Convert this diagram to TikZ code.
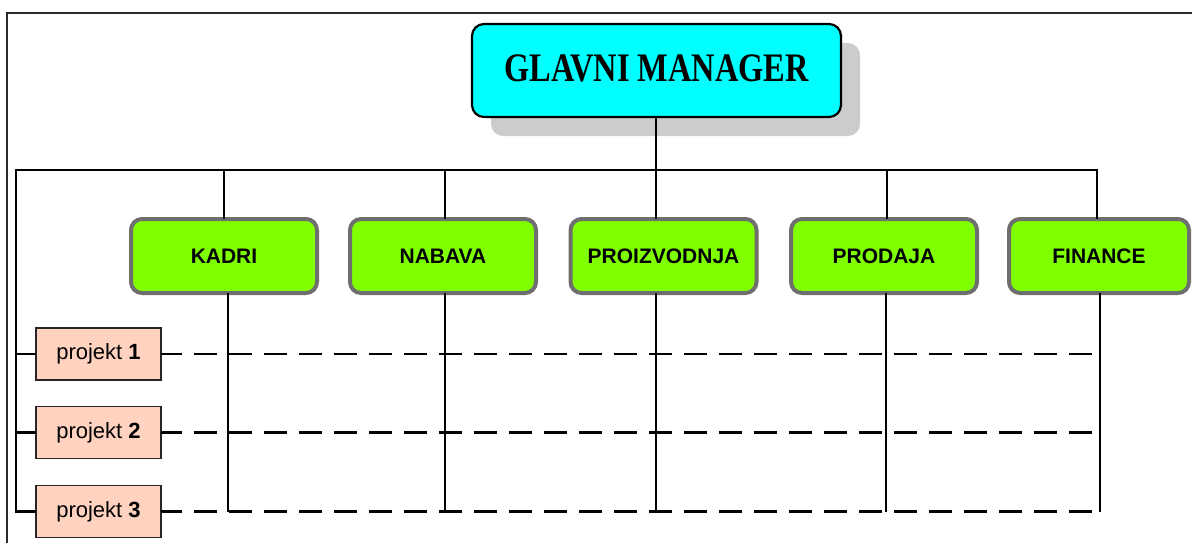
\documentclass[tikz,border=0pt]{standalone}
\usepackage{fontspec}
\setmainfont{Liberation Sans}
\newfontfamily\titlefont{Liberation Serif}
\usetikzlibrary{shadows}
\definecolor{gmcyan}{HTML}{00FFFF}
\definecolor{deptgreen}{HTML}{80FF00}
\definecolor{deptedge}{HTML}{6E6E6E}
\definecolor{projfill}{HTML}{FFD3C0}
\definecolor{shadowgray}{HTML}{CCCCCC}
\definecolor{framegray}{HTML}{2A2A2A}
\begin{document}
\begin{tikzpicture}[x=1pt,y=-1pt,
  topbox/.style={draw=black, line width=2.2pt, fill=gmcyan, rounded corners=12pt,
    minimum width=369pt, minimum height=93pt, inner sep=0pt, outer sep=0pt,
    general shadow={fill=shadowgray, shadow xshift=19pt, shadow yshift=-19pt}},
  deptbox/.style={draw=deptedge, line width=4pt, fill=deptgreen, rounded corners=11pt,
    minimum width=186pt, minimum height=74pt, inner sep=0pt, outer sep=0pt,
    font=\fontsize{21}{25}\selectfont\bfseries},
  projbox/.style={draw=black!85, line width=1.5pt, fill=projfill,
    minimum width=125pt, minimum height=52pt, inner sep=0pt, outer sep=0pt,
    font=\fontsize{22}{26}\selectfont},
  link/.style={line width=2.6pt, draw=black},
  dashlink/.style={line width=2.8pt, draw=black, dash pattern=on 23pt off 12pt, dash phase=2pt},
  framestyle/.style={line width=2pt, draw=framegray}
]
\useasboundingbox (0,0) rectangle (1192,543);

% outer frame
\draw[framestyle] (7,543) -- (7,13) -- (1192,13);

% bus coordinates
\coordinate (busL) at (16,170);

% boxes
\node[topbox] (gm) at (656.5,70.5)
  {\raisebox{4pt}{\titlefont\bfseries\fontsize{40.5}{44}\selectfont\scalebox{0.8}[1]{GLAVNI MANAGER}}};

\node[deptbox] (kadri)   at (224,256)   {KADRI};
\node[deptbox] (nabava)  at (443,256)   {NABAVA};
\node[deptbox] (proiz)   at (663.5,256) {PROIZVODNJA};
\node[deptbox] (prodaja) at (884,256)   {PRODAJA};
\node[deptbox,minimum width=180pt] (finance) at (1099,256) {FINANCE};

\node[projbox] (p1) at (98.5,354)   {projekt \textbf{1}};
\node[projbox] (p2) at (98.5,432.5) {projekt \textbf{2}};
\node[projbox] (p3) at (98.5,511.5) {projekt \textbf{3}};

% dashed project rows (drawn first so the solid lines sit on top)
\draw[dashlink] (p1.east) -- (p1.east -| 1100,0);
\draw[dashlink] (p2.east) -- (p2.east -| 1100,0);
\draw[dashlink] (p3.east) -- (p3.east -| 1100,0);

% top-level link to the bus
\draw[link] (gm.south -| 656,0) -- (656,170);

% bus with left spine down to the projects
\draw[link] (p3.west) -| (busL) -- ([xshift=-2pt]finance.north |- busL) -- ([xshift=-2pt]finance.north);
\draw[link] (p1.west) -- (p1.west -| busL);
\draw[link] (p2.west) -- (p2.west -| busL);

% drops from the bus to the departments
\draw[link] (kadri.north) -- (kadri.north |- busL);
\draw[link] ([xshift=2pt]nabava.north) -- ([xshift=2pt]nabava.north |- busL);
\draw[link] ([xshift=-7.5pt]proiz.north) -- ([xshift=-7.5pt]proiz.north |- busL);
\draw[link] ([xshift=3pt]prodaja.north) -- ([xshift=3pt]prodaja.north |- busL);

% department columns down through the project rows
\draw[link] ([xshift=4pt]kadri.south) -- ([xshift=4pt]kadri.south |- p3);
\draw[link] ([xshift=2pt]nabava.south) -- ([xshift=2pt]nabava.south |- p3);
\draw[link] ([xshift=-7.5pt]proiz.south) -- ([xshift=-7.5pt]proiz.south |- p3);
\draw[link] ([xshift=2pt]prodaja.south) -- ([xshift=2pt]prodaja.south |- p3);
\draw[link] ([xshift=1pt]finance.south) -- ([xshift=1pt]finance.south |- p3);
\end{tikzpicture}
\end{document}
